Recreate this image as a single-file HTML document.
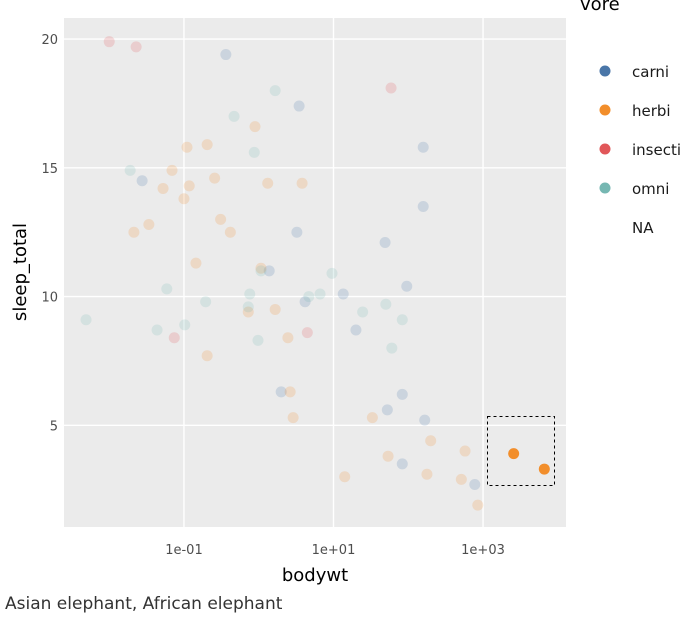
<!DOCTYPE html>
<html><head><meta charset="utf-8"><style>
body{margin:0;background:#fff;}
svg{display:block;font-family:"DejaVu Sans","Liberation Sans",sans-serif;}
</style></head><body>
<svg id="chart" width="693" height="629" viewBox="0 0 693 629" xmlns="http://www.w3.org/2000/svg">
<rect x="64" y="18" width="502" height="509" fill="#ebebeb"/>
<g id="grid"></g>
<g id="points"></g>
<g id="axes"></g>
<text x="315" y="581" font-size="18" text-anchor="middle" fill="#000">bodywt</text>
<text x="26" y="272" font-size="18" text-anchor="middle" fill="#000" transform="rotate(-90 26 272)">sleep_total</text>
<text x="580" y="10" font-size="18" fill="#000">vore</text>
<g id="legend"></g>
<text x="5" y="609" font-size="17" fill="#333">Asian elephant, African elephant</text>
</svg>
<script>
const categories=["carni","herbi","insecti","omni"];
const colors={carni:"#4a76a8",herbi:"#f28e2b",insecti:"#e15759",omni:"#76b7b2"};
// log10(bodywt) values per vore
const carniLogWt=[-0.44,0.54,-1.56,0.51,0.14,0.62,2.20,2.20,1.69,1.98,1.13,1.30,1.92,1.72,2.22,1.92,2.89,0.30];
const carniSleep=[19.4,17.4,14.5,12.5,11.0,9.8,15.8,13.5,12.1,10.4,10.1,8.7,6.2,5.6,5.2,3.5,2.7,6.3];
const herbiLogWt=[-0.05,-0.96,-0.69,-1.16,-0.59,0.12,0.58,-1.28,-0.93,-1.00,-0.51,-1.47,-1.67,-0.38,-0.84,0.03,0.22,-0.14,0.39,-0.69,0.42,0.46,1.52,2.30,2.76,1.73,1.15,2.25,2.71,2.93];
const herbiSleep=[16.6,15.8,15.9,14.9,14.6,14.4,14.4,14.2,14.3,13.8,13.0,12.8,12.5,12.5,11.3,11.1,9.5,9.4,8.4,7.7,6.3,5.3,5.3,4.4,4.0,3.8,3.0,3.1,2.9,1.9];
const insectiLogWt=[-2.00,-1.64,1.77,-1.13,0.65];
const insectiSleep=[19.9,19.7,18.1,8.4,8.6];
const omniLogWt=[0.22,-0.33,-0.06,-1.72,0.03,-1.23,-0.12,0.67,0.82,-0.71,-0.14,-2.31,-0.99,-1.36,-0.01,0.98,1.39,1.70,1.92,1.78];
const omniSleep=[18.0,17.0,15.6,14.9,11.0,10.3,10.1,10.0,10.1,9.8,9.6,9.1,8.9,8.7,8.3,10.9,9.4,9.7,9.1,8.0];
const selectedLogWt=[3.41,3.82];
const selectedSleep=[3.9,3.3];
const xTickVals=[-1,1,3];
const xTickLabels=["1e-01","1e+01","1e+03"];
const yTickVals=[5,10,15,20];

const NS="http://www.w3.org/2000/svg";
const X0=64,X1=566,Y0=18,Y1=527,LX0=-2.605,LX1=4.11,S0=1.05,S1=20.82;
function xs(v){return X0+(v-LX0)/(LX1-LX0)*(X1-X0);}
function ys(v){return Y1-(v-S0)/(S1-S0)*(Y1-Y0);}
function mk(tag,attrs,parent){const e=document.createElementNS(NS,tag);for(const k in attrs)e.setAttribute(k,attrs[k]);parent.appendChild(e);return e;}
const grid=document.getElementById('grid'),axes=document.getElementById('axes'),pts=document.getElementById('points'),leg=document.getElementById('legend');
xTickVals.forEach((v,i)=>{
  const l=mk('line',{x1:xs(v),x2:xs(v),y1:Y0,y2:Y1,stroke:'#fff','stroke-width':1.4},grid);
  
  
  const t=mk('text',{x:xs(v),y:554,'font-size':13,'text-anchor':'middle',fill:'#4d4d4d'},axes);
  t.textContent=xTickLabels[i];
  
  
});
yTickVals.forEach(v=>{
  const l=mk('line',{x1:X0,x2:X1,y1:ys(v),y2:ys(v),stroke:'#fff','stroke-width':1.4},grid);
  
  
  const t=mk('text',{x:58,y:ys(v)+5,'font-size':13,'text-anchor':'end',fill:'#4d4d4d'},axes);
  t.textContent=String(v);
  
  
});
const series=[["carni",carniLogWt,carniSleep],["herbi",herbiLogWt,herbiSleep],["insecti",insectiLogWt,insectiSleep],["omni",omniLogWt,omniSleep]];
series.forEach(([name,xa,ya])=>{
  xa.forEach((v,i)=>{
    const c=mk('circle',{cx:xs(v),cy:ys(ya[i]),r:5.5,fill:colors[name],'fill-opacity':0.2},pts);
    
    
  });
});
selectedLogWt.forEach((v,i)=>{
  const c=mk('circle',{cx:xs(v),cy:ys(selectedSleep[i]),r:5.5,fill:colors.herbi},pts);
  
  
});
const br=mk('rect',{x:487.5,y:416.5,width:67,height:69,fill:'none',stroke:'#000','stroke-width':1,'stroke-dasharray':'3,3'},pts);


const legY=[71,110,149,188];
categories.forEach((c,i)=>{
  const ci=mk('circle',{cx:605,cy:legY[i],r:5.5,fill:colors[c]},leg);
  
  
  const t=mk('text',{x:632,y:legY[i]+6,'font-size':15,fill:'#1a1a1a'},leg);
  t.textContent=c;
  
  
});
const na=mk('text',{x:632,y:233,'font-size':15,fill:'#1a1a1a'},leg);
na.textContent="NA";


</script>
</body></html>
